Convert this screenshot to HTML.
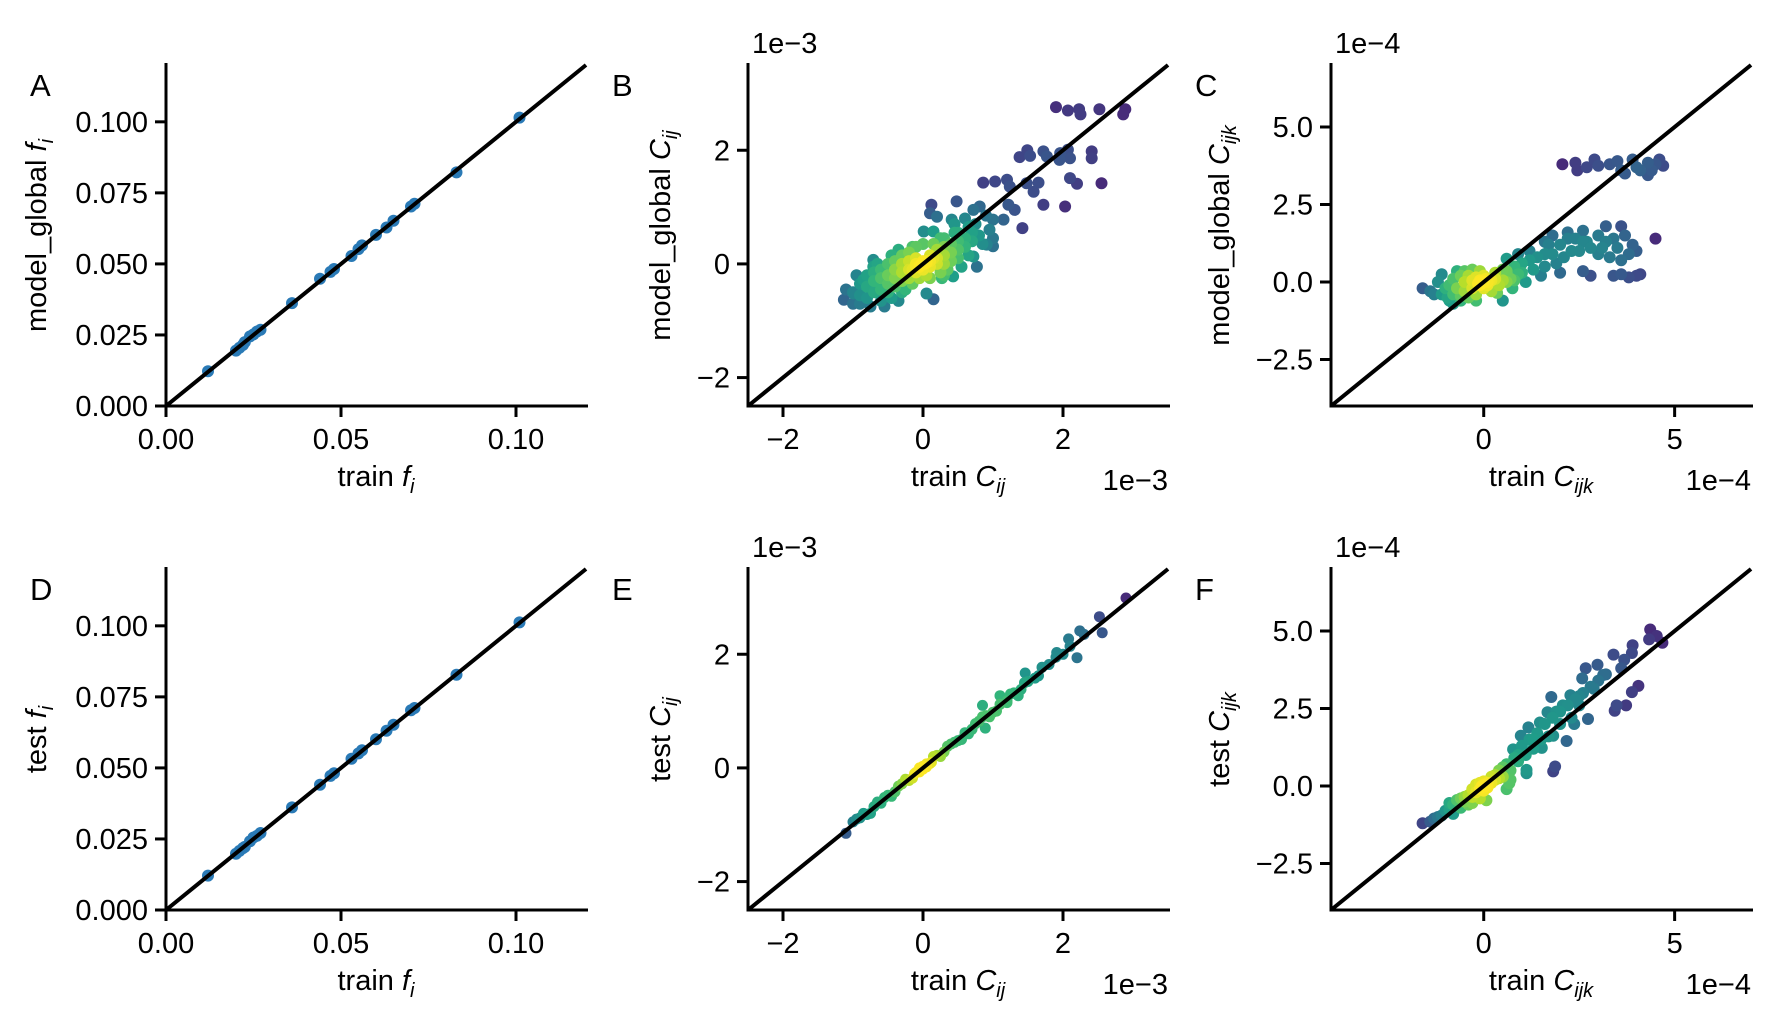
<!DOCTYPE html>
<html><head><meta charset="utf-8"><style>
html,body{margin:0;padding:0;background:#fff;}
svg{display:block;font-family:"Liberation Sans",sans-serif;}
text{fill:#000;}
</style></head><body>
<svg id="fig" width="1780" height="1031" viewBox="0 0 1780 1031" xmlns="http://www.w3.org/2000/svg"></svg>
<script>
// ---- Panel A / D data (frequencies) ----
const fTrain = [0.012,0.020,0.021,0.022,0.0225,0.024,0.025,0.026,0.027,0.036,0.044,0.047,0.048,0.053,0.055,0.056,0.060,0.063,0.065,0.070,0.071,0.083,0.101];
const fModel = [0.0122,0.0195,0.0205,0.0215,0.0225,0.0245,0.0252,0.0262,0.0268,0.0362,0.0448,0.0472,0.0482,0.0528,0.0552,0.0565,0.0602,0.0628,0.0652,0.0702,0.0712,0.0822,0.1015];
const fTest  = [0.0121,0.0198,0.0208,0.0218,0.0222,0.0242,0.0255,0.0261,0.0271,0.0361,0.0441,0.0472,0.0481,0.0532,0.0551,0.0562,0.0601,0.0631,0.0652,0.0703,0.0711,0.0828,0.1012];

// ---- Panel B (x: train Cij, y: model Cij, units 1e-3) ----
const bX = [1.9,2.07,2.23,2.25,2.52,2.89,2.86,1.38,1.49,1.53,1.72,1.77,1.96,2.07,1.95,2.10,2.41,2.41,0.86,1.03,1.2,1.24,1.48,1.65,1.58,2.10,2.2,2.55,1.72,2.03,1.22,1.31,0.81,1.0,1.15,1.42,0.12,0.10,0.48,0.41,0.72,0.2,0.01,0.15,0.91,1.0,0.72,0.77,0.27,0.43,0.05,0.15,-1.13,-0.99,-0.85,-0.71,-0.71,
 -0.9,-0.8,-0.8,-0.7,-0.7,-0.6,-0.6,-0.6,-0.5,-0.5,-0.5,-0.5,-0.4,-0.4,-0.4,-0.4,-0.3,-0.3,-0.3,-0.3,-0.2,-0.2,-0.2,-0.2,-0.1,-0.1,-0.1,0,0,0,0.05,-0.05,0.1,0.1,0.1,0.2,0.2,0.2,0.3,0.3,0.3,0.4,0.4,0.4,0.5,0.5,0.5,0.6,0.6,0.7,0.7,0.8,0.5,0.3,-0.6,-0.3,0.1,0.3,-0.1,-0.7,-1.0,-0.9,
 0,0.05,-0.05,0.1,-0.1,0.02,-0.02,0.15,-0.15,
 -1.0,-0.9,-1.1,-0.95,-0.8,-0.75,-0.55,-0.45,-0.35,-0.25,-0.15,-0.65,-0.45,-0.35,-0.15,0.0,0.15,0.25,0.45,0.65,0.75,0.85,0.95,0.65,0.55,0.35,0.25,0.05,-0.05,0.9,1.0,0.45,0.6];
const bY = [2.76,2.7,2.72,2.63,2.72,2.72,2.63,1.88,2.0,1.9,1.98,1.89,1.95,2.01,1.83,1.86,1.98,1.86,1.43,1.45,1.48,1.36,1.42,1.43,1.27,1.51,1.41,1.42,1.04,1.01,1.04,0.95,1.01,0.78,0.78,0.63,1.04,0.89,1.1,0.78,0.95,0.83,0.57,0.57,0.34,0.31,0.13,-0.05,-0.25,-0.22,-0.52,-0.62,-0.63,-0.52,-0.28,-0.05,0.07,
 -0.55,-0.6,-0.4,-0.5,-0.3,-0.45,-0.25,-0.1,-0.5,-0.35,-0.2,0,-0.4,-0.25,-0.1,0.05,-0.3,-0.15,0,0.15,-0.25,-0.1,0.05,0.2,-0.15,0,0.1,-0.1,0,0.05,0.02,-0.03,0.05,-0.05,0.15,0.1,0,0.25,0.15,0.3,0,0.2,0.35,0.05,0.25,0.4,0.1,0.3,0.45,0.4,0.55,0.5,0.55,0.45,-0.65,-0.5,-0.25,-0.2,0.3,-0.15,-0.5,-0.35,
 0,0.05,-0.05,0.05,-0.05,0.0,0.0,0.1,-0.1,
 -0.7,-0.7,-0.45,-0.2,-0.2,-0.75,-0.75,-0.6,-0.65,-0.45,-0.35,0.0,0.15,0.25,0.3,0.35,0.35,0.45,0.55,0.65,0.7,0.35,0.6,0.15,-0.05,-0.1,-0.15,-0.2,-0.25,0.85,0.45,0.7,0.8];

// ---- Panel C (x: train Cijk, y: model Cijk, units 1e-4) ----
const cX = [2.06,2.4,2.45,2.7,2.9,3.0,3.3,3.5,3.6,3.7,3.9,4.0,4.1,4.3,4.4,4.5,4.6,4.3,4.7,
 1.6,1.8,2.0,2.2,2.4,2.5,2.6,2.7,2.8,3.0,3.0,3.2,3.3,3.4,3.5,3.6,3.7,3.8,3.9,4.0,2.3,2.1,1.8,4.5,3.6,3.2,
 3.4,3.6,3.8,4.0,4.1,2.8,2.6,
 0.5,0.8,1.0,1.2,1.4,1.6,1.0,1.3,1.6,1.9,0.7,1.1,1.5,2.0,0.6,0.9,
 -1.6,-1.4,-1.2,-1.1,-1.0,-0.9,-0.8,-0.8,-0.7,-0.6,-0.6,-0.5,-0.5,-0.4,-0.4,-0.3,-0.3,-0.2,-0.2,-0.1,-0.1,0,0,0,0.1,0.1,0.2,0.2,0.3,0.4,0.5,0.6,0.7,0.8,-0.8,0.5,0.05,-0.05,0.15,-0.15,0.0,0.1,-0.1,
 -1.3,-1.1,-0.95,-0.7,-0.5,-0.3,-0.1,0.3,0.6,0.9,-0.9,-0.6,-0.2,0.35,0.75,1.2,1.7,2.2,2.6,3.1];
const cY = [3.8,3.85,3.6,3.7,3.95,3.75,3.8,3.9,3.6,3.5,3.95,3.7,3.6,3.85,3.6,3.8,3.95,3.45,3.75,
 1.3,1.5,1.2,1.6,1.4,1.0,1.65,1.3,1.1,1.5,0.9,1.3,0.8,1.4,1.1,0.7,1.5,0.9,1.2,1.0,1.0,0.8,0.9,1.4,1.8,1.8,
 0.2,0.25,0.15,0.2,0.25,0.2,0.35,
 0.4,0.5,0.6,0.7,0.8,0.9,0.3,0.4,0.5,0.6,0.1,0.0,0.2,0.3,0.75,0.9,
 -0.2,-0.3,0,-0.4,-0.2,-0.6,0.1,-0.4,-0.2,-0.6,0.2,-0.3,0,-0.5,0.2,-0.2,0.05,-0.4,0.15,-0.1,0.05,0,-0.2,0.2,0,-0.1,0.05,-0.3,0.1,-0.1,0.05,0,0.1,0.05,-0.7,-0.6,0.1,-0.05,0.05,-0.05,0.02,0.0,0.0,
 -0.4,0.25,-0.5,0.35,0.35,0.4,0.35,0.3,0.35,0.25,-0.1,-0.45,-0.6,-0.35,-0.2,1.0,1.2,1.4,1.3,1.1];

// ---- Panel E (x: train Cij, y: test Cij, units 1e-3) ----
const eX = [2.9,2.52,2.56,2.24,2.08,2.2,1.91,1.7,1.46,1.36,1.10,0.85,0.89,1.2,
 -1.1,-1.0,-0.9,-0.8,-0.7,-0.6,-0.5,-0.4,-0.3,-0.2,-0.1,0,0.1,0.2,0.3,0.4,0.5,0.6,0.7,0.8,0.9,1.0,1.1,1.2,1.3,1.4,1.5,1.6,1.8,2.0,
 -0.85,-0.65,-0.45,-0.25,-0.15,-0.05,0.05,0.15,0.25,0.35,0.55,0.75,0.95,-0.2,-0.1,0,0.1,0.05,-0.05,0,0.12,-0.12,
 -0.95,-0.75,-0.55,-0.35,0.45,0.65,0.85,1.05,1.25,1.45,1.65,1.9,2.1,2.3];
const eY = [2.99,2.66,2.38,2.41,2.27,1.94,2.03,1.77,1.67,1.27,1.27,1.1,0.7,1.15,
 -1.15,-0.95,-0.88,-0.82,-0.68,-0.62,-0.48,-0.42,-0.28,-0.22,-0.08,0,0.08,0.22,0.28,0.42,0.48,0.62,0.68,0.82,0.92,0.98,1.12,1.18,1.32,1.38,1.52,1.58,1.82,2.0,
 -0.8,-0.6,-0.5,-0.2,-0.18,0.0,0.02,0.2,0.2,0.38,0.5,0.78,0.9,-0.22,-0.08,0.03,0.08,0.07,-0.07,-0.02,0.1,-0.1,
 -0.9,-0.8,-0.52,-0.32,0.45,0.6,0.9,1.0,1.3,1.5,1.62,1.95,2.14,2.35];

// ---- Panel F (x: train Cijk, y: test Cijk, units 1e-4) ----
const fiX = [4.36,4.53,4.33,4.68,3.9,3.4,3.88,3.68,2.67,2.98,3.13,2.58,2.88,2.27,1.77,2.07,1.67,1.47,1.17,0.97,0.77,4.05,3.88,3.48,3.73,3.43,2.73,2.37,2.17,1.82,1.52,1.87,1.82,1.12,0.67,0.07,1.12,
 1.0,1.2,1.4,1.6,1.8,2.0,2.2,2.4,2.6,2.8,3.0,1.5,2.0,2.5,0.8,0.6,0.4,0.5,0.7,0.9,1.1,1.3,1.7,2.3,
 -1.6,-1.4,-1.2,-1.0,-0.8,-0.8,-0.6,-0.6,-0.5,-0.4,-0.4,-0.3,-0.3,-0.2,-0.2,-0.1,-0.1,0,0,0,0.1,0.1,0.2,0.2,0.3,0.3,0.4,0.05,-0.05,0.05,-0.05,0.1,0,0.6,0.7,-0.1,
 -1.3,-1.1,-0.9,-0.7,-0.5,-0.9,-0.3,0.5,0.9,1.3,1.9,2.5,3.2,3.6];
const fiY = [5.05,4.84,4.73,4.62,4.54,4.24,4.29,4.07,3.8,3.91,3.58,3.47,3.14,2.93,2.87,2.6,2.38,2.05,1.89,1.62,1.18,3.23,3.03,2.6,2.6,2.43,2.16,2.0,1.45,1.62,1.23,0.63,0.47,0.52,0.09,-0.46,0.41,
 1.3,1.5,1.7,2.0,2.2,2.4,2.6,2.8,3.0,3.2,3.4,1.5,2.0,2.6,0.9,0.7,0.5,0.3,0.5,0.8,1.0,1.2,1.6,2.2,
 -1.2,-1.15,-1.0,-0.8,-0.6,-0.9,-0.4,-0.7,-0.5,-0.3,-0.6,-0.1,-0.35,-0.2,0.05,-0.1,0.1,0,-0.15,0.15,0.05,-0.05,0.1,0.3,0.2,0.35,0.25,0.0,0.0,0.05,-0.05,0.1,0.05,-0.1,0.2,-0.4,
 -1.05,-0.95,-0.75,-0.45,-0.35,-0.55,-0.55,0.6,1.0,1.5,2.4,2.9,3.6,3.8];

const NS = "http://www.w3.org/2000/svg";
const svg = document.getElementById('fig');
const ROW = [65, 569];
const COL = [166, 748, 1331];
const W = 420, H = 341;

function el(tag, attrs, parent) {
  const e = document.createElementNS(NS, tag);
  for (const k in attrs) e.setAttribute(k, attrs[k]);
  (parent || svg).appendChild(e);
  return e;
}
const viridis = [[68,1,84],[72,40,120],[62,74,137],[49,104,142],[38,130,142],[31,158,137],[53,183,121],[110,206,88],[181,222,43],[253,231,37]];
function vcol(t){
  t = Math.max(0, Math.min(1, t));
  const p = t*(viridis.length-1), i = Math.min(Math.floor(p), viridis.length-2), f = p-i;
  const a = viridis[i], b = viridis[i+1];
  return 'rgb('+a.map((v,k)=>Math.round(v+(b[k]-v)*f)).join(',')+')';
}
function fmtMinus(s){ return String(s).replace('-', '\u2212'); }

function makePanel(opts){
  const x0 = COL[opts.col], y0 = ROW[opts.row];
  const g = el('g', {});
  
  
  const sx = v => x0 + (v - opts.xlim[0]) / (opts.xlim[1]-opts.xlim[0]) * W;
  const sy = v => y0 + H - (v - opts.ylim[0]) / (opts.ylim[1]-opts.ylim[0]) * H;

  const pg = el('g', {}, g);
  
  
  const n = opts.xs.length;
  let pts = [];
  if (opts.density) {
    const bw = opts.bw;
    let dens = [];
    for (let i=0;i<n;i++){ let d=0; for(let j=0;j<n;j++){ const dx=(opts.xs[i]-opts.xs[j])/bw, dy=(opts.ys[i]-opts.ys[j])/bw; d+=Math.exp(-0.5*(dx*dx+dy*dy)); } dens.push(d); }
    const mx = Math.max(...dens), mn = Math.min(...dens);
    for (let i=0;i<n;i++) pts.push({x:opts.xs[i], y:opts.ys[i], t:0.12+0.88*Math.pow((dens[i]-mn)/(mx-mn), 0.9)});
    pts.sort((a,b)=>a.t-b.t);
  } else {
    for (let i=0;i<n;i++) pts.push({x:opts.xs[i], y:opts.ys[i], t:null});
  }
  for (const p of pts) {
    const c = el('circle', {cx:sx(p.x).toFixed(1), cy:sy(p.y).toFixed(1), r: opts.r, fill: p.t===null ? '#2a7ab6' : vcol(p.t)}, pg);
    
    
  }
  const lo = Math.max(opts.xlim[0], opts.ylim[0]), hi = Math.min(opts.xlim[1], opts.ylim[1]);
  const dl = el('line', {x1:sx(lo), y1:sy(lo), x2:sx(hi), y2:sy(hi), stroke:'#000', 'stroke-width':4}, g);
  
  
  const ys = el('line', {x1:x0, y1:y0-2, x2:x0, y2:y0+H+1.5, stroke:'#000','stroke-width':3}, g);
  
  
  const xsp = el('line', {x1:x0-1.5, y1:y0+H, x2:x0+W+2, y2:y0+H, stroke:'#000','stroke-width':3}, g);
  
  
  opts.xticks.forEach((v,i)=>{
    const X = sx(v);
    const t = el('line', {x1:X, y1:y0+H, x2:X, y2:y0+H+11, stroke:'#000','stroke-width':3}, g);
    
    
    const l = el('text', {x:X, y:y0+H+43, 'text-anchor':'middle','font-size':29}, g);
    l.textContent = fmtMinus(opts.xtickLabels[i]);
    
    
  });
  opts.yticks.forEach((v,i)=>{
    const Y = sy(v);
    const t = el('line', {x1:x0-11, y1:Y, x2:x0, y2:Y, stroke:'#000','stroke-width':3}, g);
    
    
    const l = el('text', {x:x0-18, y:Y+10, 'text-anchor':'end','font-size':29}, g);
    l.textContent = fmtMinus(opts.ytickLabels[i]);
    
    
  });
  const xl = el('text', {x:x0+W/2, y:y0+H+80, 'text-anchor':'middle','font-size':29}, g);
  xl.innerHTML = opts.xlabel;
  
  
  const yl = el('text', {x:0, y:0, 'text-anchor':'middle','font-size':29, transform:'translate('+(x0+opts.ylabelDx)+','+(y0+H/2)+') rotate(-90)'}, g);
  yl.innerHTML = opts.ylabel;
  
  
  const pl = el('text', {x:x0-136, y:y0+31, 'font-size':31}, g);
  pl.textContent = opts.letter;
  
  
  if (opts.offset) {
    const o1 = el('text', {x:x0+4, y:y0-12, 'font-size':29}, g);
    o1.textContent = opts.offset;
    
    
    const o2 = el('text', {x:x0+W, y:y0+H+84, 'text-anchor':'end','font-size':29}, g);
    o2.textContent = opts.offset;
    
    
  }
}

const fi = '<tspan font-style="italic">f</tspan><tspan font-style="italic" font-size="20" dy="7">i</tspan>';
const cij = '<tspan font-style="italic">C</tspan><tspan font-style="italic" font-size="20" dy="7">ij</tspan>';
const cijk = '<tspan font-style="italic">C</tspan><tspan font-style="italic" font-size="20" dy="7">ijk</tspan>';

const fTicks = [0,0.05,0.1], fTickLabels = ['0.00','0.05','0.10'];
const fYTicks = [0,0.025,0.05,0.075,0.1], fYTickLabels = ['0.000','0.025','0.050','0.075','0.100'];
const cTicks = [-2,0,2], cTickLabels = ['-2','0','2'];
const kXTicks = [0,5], kXTickLabels = ['0','5'];
const kYTicks = [-2.5,0,2.5,5], kYTickLabels = ['-2.5','0.0','2.5','5.0'];

makePanel({name:'panel-a', letter:'A', row:0, col:0, xs:fTrain, ys:fModel, xlim:[0,0.12], ylim:[0,0.12], r:6, density:false,
  xticks:fTicks, xtickLabels:fTickLabels, yticks:fYTicks, ytickLabels:fYTickLabels,
  xlabel:'train '+fi, ylabel:'model_global '+fi, ylabelDx:-120});
makePanel({name:'panel-d', letter:'D', row:1, col:0, xs:fTrain, ys:fTest, xlim:[0,0.12], ylim:[0,0.12], r:6, density:false,
  xticks:fTicks, xtickLabels:fTickLabels, yticks:fYTicks, ytickLabels:fYTickLabels,
  xlabel:'train '+fi, ylabel:'test '+fi, ylabelDx:-120});
makePanel({name:'panel-b', letter:'B', row:0, col:1, xs:bX, ys:bY, xlim:[-2.5,3.5], ylim:[-2.5,3.5], r:6, density:true, bw:0.3,
  xticks:cTicks, xtickLabels:cTickLabels, yticks:cTicks, ytickLabels:cTickLabels,
  xlabel:'train '+cij, ylabel:'model_global '+cij, ylabelDx:-78, offset:'1e\u22123'});
makePanel({name:'panel-e', letter:'E', row:1, col:1, xs:eX, ys:eY, xlim:[-2.5,3.5], ylim:[-2.5,3.5], r:5.5, density:true, bw:0.3,
  xticks:cTicks, xtickLabels:cTickLabels, yticks:cTicks, ytickLabels:cTickLabels,
  xlabel:'train '+cij, ylabel:'test '+cij, ylabelDx:-78, offset:'1e\u22123'});
makePanel({name:'panel-c', letter:'C', row:0, col:2, xs:cX, ys:cY, xlim:[-4,7], ylim:[-4,7], r:6, density:true, bw:0.55,
  xticks:kXTicks, xtickLabels:kXTickLabels, yticks:kYTicks, ytickLabels:kYTickLabels,
  xlabel:'train '+cijk, ylabel:'model_global '+cijk, ylabelDx:-102, offset:'1e\u22124'});
makePanel({name:'panel-f', letter:'F', row:1, col:2, xs:fiX, ys:fiY, xlim:[-4,7], ylim:[-4,7], r:6, density:true, bw:0.55,
  xticks:kXTicks, xtickLabels:kXTickLabels, yticks:kYTicks, ytickLabels:kYTickLabels,
  xlabel:'train '+cijk, ylabel:'test '+cijk, ylabelDx:-102, offset:'1e\u22124'});
</script>
</body></html>
